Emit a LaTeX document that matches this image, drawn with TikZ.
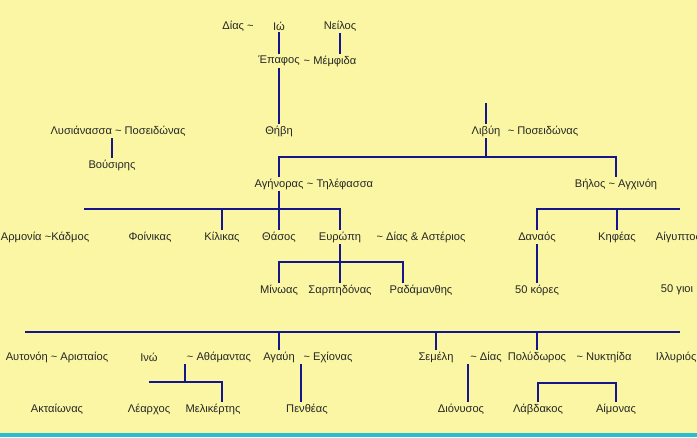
\documentclass[tikz,border=0pt]{standalone}
\usepackage{fontspec}
\setmainfont{Liberation Sans}
\definecolor{bgyellow}{RGB}{250,246,163}
\definecolor{linkblue}{RGB}{22,22,140}
\definecolor{barcyan}{RGB}{40,190,210}
\newcommand{\wed}{\textasciitilde}
\begin{document}
\begin{tikzpicture}[x=0.03cm,y=-0.03cm,
    every node/.style={font=\fontsize{9.5}{11}\selectfont, text=black!85, inner sep=1.5pt},
    link/.style={draw=linkblue, line width=0.9pt}]
    \fill[bgyellow] (0,0) rectangle (697,437);
    \useasboundingbox (0,0) rectangle (697,437);
    \fill[barcyan] (0,433) rectangle (697,437);
    % top generations
    \node (dias1) at (238,26) {Δίας \wed};
    \node (io) at (279,26) {Ιώ};
    \node (neilos) at (340,26) {Νείλος};
    \node (epafos) at (279,61) {Έπαφος};
    \node (memfida) at (330,61) {\wed{} Μέμφιδα};
    \node (thivi) at (279,131) {Θήβη};
    \node (lysian) at (118,131) {Λυσιάνασσα \wed{} Ποσειδώνας};
    \node (vousiris) at (112,165) {Βούσιρης};
    \node (livyi) at (486,131) {Λιβύη};
    \node (pos2) at (543,131) {\wed{} Ποσειδώνας};
    \coordinate (livtop) at (486,103);
    \coordinate (bar1) at (486,157);
    \node (agin) at (279,184) {Αγήνορας};
    \node (tilef) at (340,184) {\wed{} Τηλέφασσα};
    \node (velos) at (616,184) {Βήλος \wed{} Αγχινόη};
    \draw[link] (io) -- (epafos);
    \draw[link] (neilos.south) -- (neilos.south |- memfida.north);
    \draw[link] (epafos) -- (thivi);
    \draw[link] (vousiris.north |- lysian.south) -- (vousiris.north);
    \draw[link] (livtop) -- (livyi.north);
    \draw[link] (livyi.south) -- (bar1);
    \draw[link] (agin.north) |- (bar1) -| (velos.north);
    % children of Agenor and Belus
    \node (armonia) at (45,237) {Αρμονία \wed Κάδμος};
    \node (foinikas) at (150,237) {Φοίνικας};
    \node (kilikas) at (222,237) {Κίλικας};
    \node (thasos) at (279,237) {Θάσος};
    \node (evropi) at (340,237) {Ευρώπη};
    \node (asterios) at (421,237) {\wed{} Δίας \& Αστέριος};
    \node (danaos) at (537,237) {Δαναός};
    \node (kifeas) at (617,237) {Κηφέας};
    \node[anchor=west] (aigyptos) at (654,237) {Αίγυπτος};
    \coordinate (bar2l) at (84,209);
    \coordinate (bar3r) at (680,209);
    \draw[link] (bar2l) -| (evropi.north);
    \draw[link] (kilikas.north) -- (kilikas.north |- bar2l);
    \draw[link] (agin) -- (thasos);
    \draw[link] (danaos.north) |- (bar3r);
    \draw[link] (kifeas.north) -- (kifeas.north |- bar3r);
    % children of Europa and Danaus
    \node (minoas) at (279,290) {Μίνωας};
    \node (sarpidonas) at (340,290) {Σαρπηδόνας};
    \node (radamanthis) at (421,290) {Ραδάμανθης};
    \node (kores) at (537,290) {50 κόρες};
    \node[anchor=west] (gioi) at (659,290) {50 γιοι};
    \coordinate (bar4r) at (403,262);
    \draw[link] (evropi) -- (sarpidonas);
    \draw[link] (minoas.north) |- (bar4r) -- (bar4r |- radamanthis.north);
    \draw[link] (danaos) -- (kores);
    % children of Cadmus
    \node (aftonoi) at (57,357) {Αυτονόη \wed{} Αρισταίος};
    \node (ino) at (149,357) {Ινώ};
    \node (athamas) at (219,357) {\wed{} Αθάμαντας};
    \node (agavi) at (279,357) {Αγαύη};
    \node (echionas) at (328,357) {\wed{} Εχίονας};
    \node (semeli) at (436,357) {Σεμέλη};
    \node (dias3) at (486,357) {\wed{} Δίας};
    \node (polydoros) at (537,357) {Πολύδωρος};
    \node (nyktiida) at (604,357) {\wed{} Νυκτηίδα};
    \node[anchor=west] (illyrios) at (654,357) {Ιλλυριός};
    \coordinate (bar5l) at (25,332);
    \coordinate (bar5r) at (680,332);
    \draw[link] (bar5l) -- (bar5r);
    \draw[link] (agavi.north) -- (agavi.north |- bar5l);
    \draw[link] (semeli.north) -- (semeli.north |- bar5l);
    \draw[link] (polydoros.north) -- (polydoros.north |- bar5l);
    % grandchildren
    \node (aktaionas) at (57,409) {Ακταίωνας};
    \node (learchos) at (149,409) {Λέαρχος};
    \node (melikertis) at (213,409) {Μελικέρτης};
    \node (pentheas) at (307,409) {Πενθέας};
    \node (dionysos) at (461,409) {Διόνυσος};
    \node (lavdakos) at (538,409) {Λάβδακος};
    \node (aimonas) at (616,409) {Αίμονας};
    \coordinate (bar6) at (185,382);
    \coordinate (bar6r) at (222,382);
    \coordinate (bar7) at (577,383);
    \coordinate (echx) at (301,0);
    \coordinate (diax) at (468,0);
    \draw[link] (bar6 |- athamas.south) -- (bar6);
    \draw[link] (learchos.north |- bar6) -- (bar6r) -- (bar6r |- melikertis.north);
    \draw[link] (echx |- echionas.south) -- (echx |- pentheas.north);
    \draw[link] (diax |- dias3.south) -- (diax |- dionysos.north);
    \draw[link] (lavdakos.north) |- (bar7) -| (aimonas.north);
\end{tikzpicture}
\end{document}
